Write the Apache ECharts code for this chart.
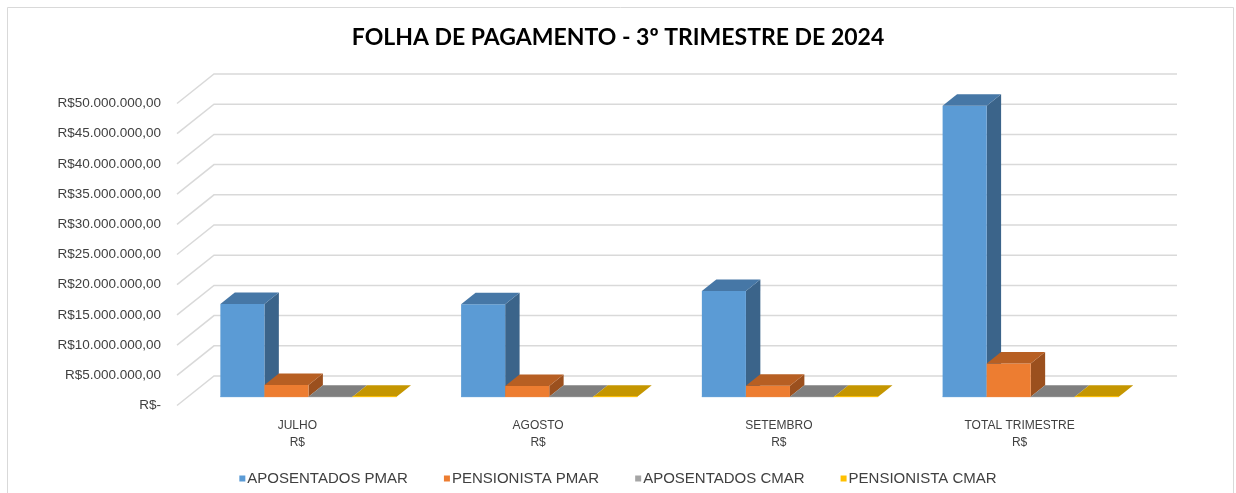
<!DOCTYPE html>
<html>
<head>
<meta charset="utf-8">
<script src="https://cdn.jsdelivr.net/npm/echarts@6/dist/echarts.min.js"></script>
<style>
  html, body { margin: 0; padding: 0; background: #ffffff; }
  #chart { width: 1236px; height: 493px; }
</style>
</head>
<body>
<div id="chart"></div>
<script>
// ---- data ----
const title = 'FOLHA DE PAGAMENTO - 3º TRIMESTRE DE 2024';
const categories = ['JULHO', 'AGOSTO', 'SETEMBRO', 'TOTAL TRIMESTRE'];
const currencyLine = 'R$';
const seriesNames = ['APOSENTADOS PMAR', 'PENSIONISTA PMAR', 'APOSENTADOS CMAR', 'PENSIONISTA CMAR'];
const aposentadosPmar = [15350000, 15300000, 17500000, 48150000];
const pensionistaPmar = [1940000, 1750000, 1800000, 5490000];
const aposentadosCmar = [0, 0, 0, 0];
const pensionistaCmar = [0, 0, 0, 0];
const yTicks = [0, 5000000, 10000000, 15000000, 20000000, 25000000, 30000000, 35000000, 40000000, 45000000, 50000000];

// ---- styles ----
const DEPTH = [37, -29.5];          // front-to-back wall offset
const FRONT_F = 0.30, EXTRUDE_F = 0.39;
const palettes = [
  { legend: '#5B9BD5', front: '#5B9BD5', top: '#4677a6', side: '#3b648a' },
  { legend: '#ED7D31', front: '#ED7D31', top: '#b75f23', side: '#9b501e' },
  { legend: '#A5A5A5', front: '#8a8a8a', top: '#7f7f7f', side: '#6a6a6a' },
  { legend: '#FFC000', front: '#FFC000', top: '#c59600', side: '#a07a00' }
];
const allSeries = [aposentadosPmar, pensionistaPmar, aposentadosCmar, pensionistaCmar];

function fmtBRL(v) {
  if (v === 0) return 'R$-';
  const s = Math.round(v).toString().replace(/\B(?=(\d{3})+(?!\d))/g, '.');
  return 'R$' + s + ',00';
}

function wallRender(params, api) {
  const cs = params.coordSys;
  const y = api.coord([0, api.value(1)])[1];
  const x0 = cs.x, x1 = cs.x + cs.width;
  return {
    type: 'polyline',
    shape: { points: [[x0, y], [x0 + DEPTH[0], y + DEPTH[1]], [x1 + DEPTH[0], y + DEPTH[1]]] },
    style: { stroke: '#d9d9d9', lineWidth: 1.5, fill: null },
    silent: true
  };
}

function makeBarRender(si) {
  const pal = palettes[si];
  return function (params, api) {
    const ci = api.value(0), v = api.value(1);
    const base = api.coord([ci, 0]);
    const topP = api.coord([ci, v]);
    const band = api.size([1, 0])[0];
    const bw = band * 0.183;
    const ox = DEPTH[0] * FRONT_F, oy = DEPTH[1] * FRONT_F;
    const ex = DEPTH[0] * EXTRUDE_F, ey = DEPTH[1] * EXTRUDE_F;
    const xl = base[0] + (si - 2) * bw + ox, xr = xl + bw;
    const yb = base[1] + oy, yt = topP[1] + oy;
    return {
      type: 'group',
      children: [
        { type: 'polygon', shape: { points: [[xr, yt], [xr + ex, yt + ey], [xr + ex, yb + ey], [xr, yb]] },
          style: { fill: pal.side } },
        { type: 'rect', shape: { x: xl, y: yt, width: bw, height: Math.max(yb - yt, 0) },
          style: { fill: pal.front } },
        { type: 'polygon', shape: { points: [[xl, yt], [xr, yt], [xr + ex, yt + ey], [xl + ex, yt + ey]] },
          style: { fill: pal.top } },
        { type: 'line', shape: { x1: xl, y1: yb, x2: xr, y2: yb },
          style: { stroke: pal.front, lineWidth: 1 } }
      ]
    };
  };
}

const series = [{
  type: 'custom',
  name: '_walls',
  renderItem: wallRender,
  data: yTicks.map(v => [0, v]),
  z: 1,
  silent: true,
  tooltip: { show: false }
}];
allSeries.forEach((vals, si) => {
  series.push({
    type: 'custom',
    name: seriesNames[si],
    renderItem: makeBarRender(si),
    itemStyle: { color: palettes[si].legend },
    data: vals.map((v, i) => [i, v]),
    z: 2 + si
  });
});

const chart = echarts.init(document.getElementById('chart'), null, { renderer: 'canvas' });
chart.setOption({
  animation: false,
  backgroundColor: '#ffffff',
  graphic: [{
    type: 'rect',
    shape: { x: 7.5, y: 7.5, width: 1226, height: 500 },
    style: { fill: null, stroke: '#d9d9d9', lineWidth: 1 },
    silent: true, z: 0
  }],
  title: {
    text: title,
    left: 'center',
    top: 21,
    textStyle: { fontFamily: 'Lato', fontWeight: 'bold', fontSize: 23, color: '#000000' }
  },
  legend: {
    data: seriesNames,
    top: 466,
    left: 'center',
    icon: 'rect',
    itemWidth: 6,
    itemHeight: 6,
    itemGap: 36,
    textStyle: { fontFamily: 'Liberation Sans', fontSize: 15, color: '#404040', padding: [0, 0, 0, -3] }
  },
  grid: { left: 177, right: 96, top: 103.5, bottom: 87.5, containLabel: false },
  xAxis: {
    type: 'category',
    data: categories,
    boundaryGap: true,
    axisLine: { show: false },
    axisTick: { show: false },
    axisLabel: {
      margin: 12,
      formatter: v => v + '\n' + currencyLine,
      fontFamily: 'Liberation Sans',
      fontSize: 12,
      lineHeight: 17,
      color: '#404040'
    }
  },
  yAxis: {
    type: 'value',
    min: 0,
    max: 50000000,
    interval: 5000000,
    axisLine: { show: false },
    axisTick: { show: false },
    splitLine: { show: false },
    axisLabel: {
      margin: 16,
      formatter: fmtBRL,
      fontFamily: 'Liberation Sans',
      fontSize: 13.5,
      color: '#404040'
    }
  },
  series: series
});
</script>
</body>
</html>
